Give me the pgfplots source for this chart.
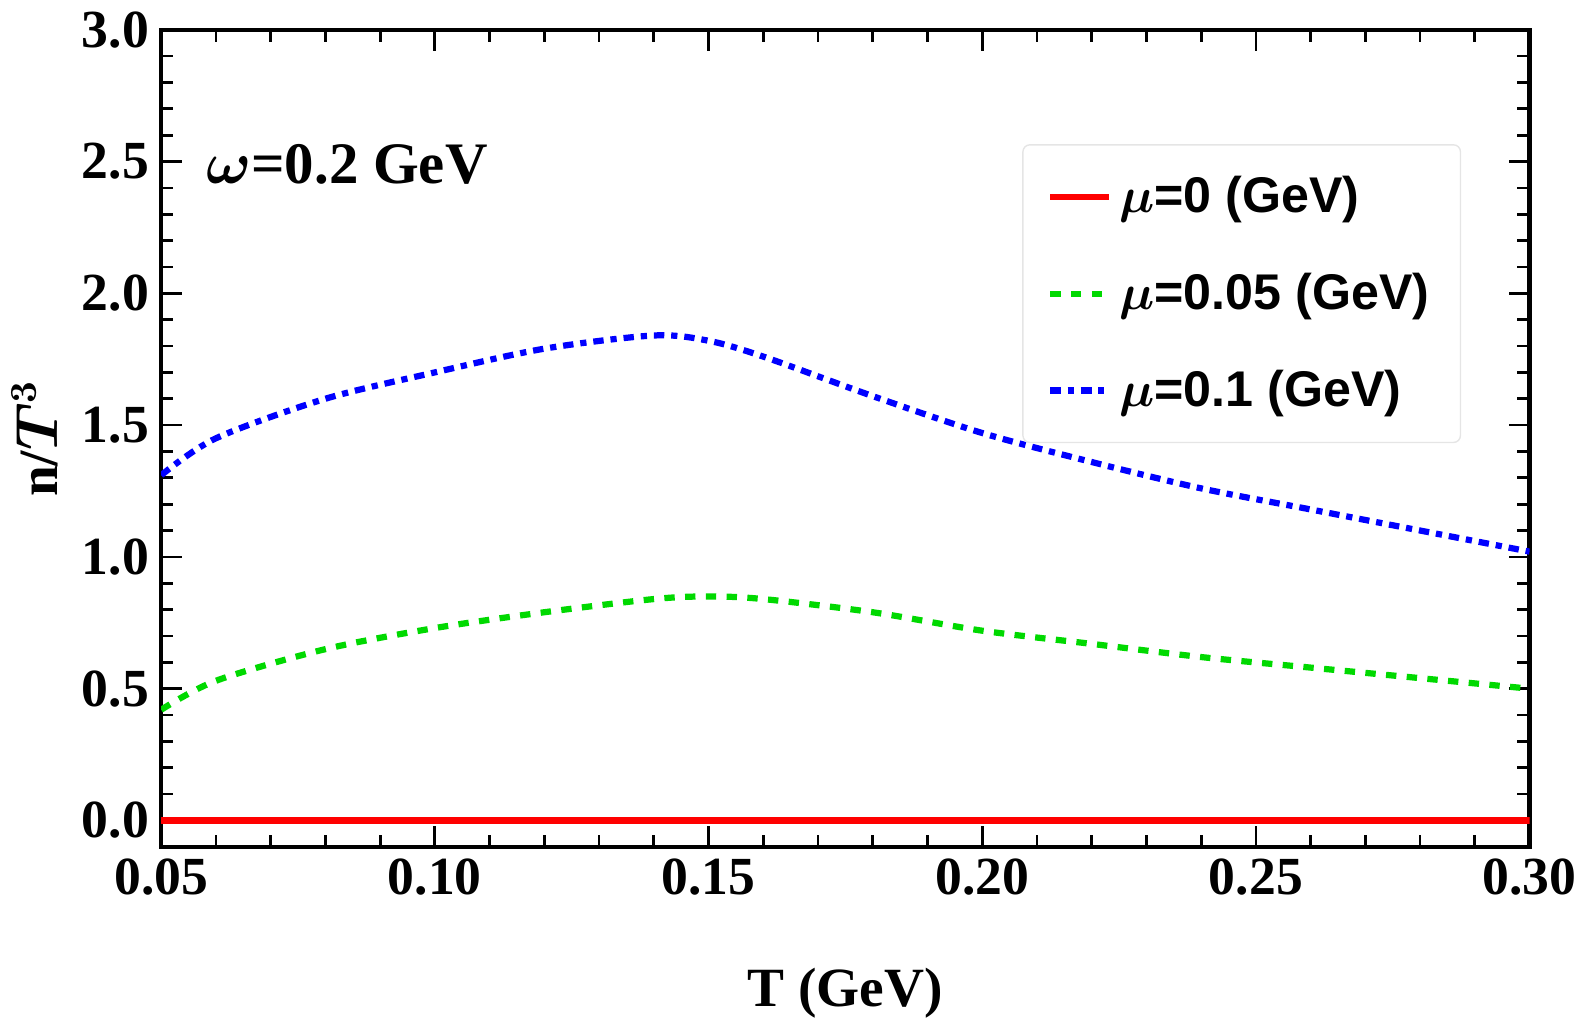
\documentclass[border=0pt]{standalone}
\usepackage{pgfplots}
\pgfplotsset{compat=1.18}
\usepackage{amsmath}
\usepackage{bm}
\usepackage{fontspec}
\setmainfont{Liberation Serif}
\newfontfamily\lsans{Liberation Sans}
\begin{document}
\begin{tikzpicture}
\begin{axis}[
  scale only axis, width=13.9cm, height=8.3cm,
  xmin=0.05, xmax=0.30, ymin=-0.1, ymax=3.0,
  xtick={0.05,0.10,...,0.30}, ytick={0,0.5,...,3.0},
  minor x tick num=4, minor y tick num=4,
  tick align=inside, tick style={black, line width=0.8pt},
  major tick length=6pt, minor tick length=3.5pt,
  axis line style={line width=1.2pt},
  /pgf/number format/assume math mode=true,
  xticklabel style={/pgf/number format/.cd, fixed, fixed zerofill, precision=2},
  yticklabel style={/pgf/number format/.cd, fixed, fixed zerofill, precision=1},
  ticklabel style={font=\bfseries\fontsize{15.5}{15.5}\selectfont},
  xlabel={\bfseries T (GeV)}, ylabel={\bfseries n/$\bm{T^3}$},
  label style={font=\bfseries\fontsize{16}{16}\selectfont},
  xlabel style={yshift=-14pt},
  legend style={at={(0.95,0.86)}, anchor=north east, draw=black!10, rounded corners=2pt,
    font=\lsans\bfseries\fontsize{14.5}{14.5}\selectfont, row sep=12pt, inner sep=7pt},
  legend cell align=left,
]
\addplot[red, line width=1.8pt] coordinates {(0.05,0) (0.30,0)};
\addlegendentry{$\bm{\mu}$=0 (GeV)}
\addplot[green!85!black, line width=1.8pt, dashed, smooth] coordinates {
(0.05,0.42) (0.06,0.53) (0.08,0.65) (0.10,0.73) (0.12,0.79) (0.14,0.84) (0.15,0.85) (0.16,0.84) (0.18,0.79) (0.20,0.72) (0.22,0.67) (0.24,0.62) (0.26,0.58) (0.28,0.54) (0.30,0.50)};
\addlegendentry{$\bm{\mu}$=0.05 (GeV)}
\addplot[blue, line width=1.8pt, dash dot, smooth] coordinates {
(0.05,1.31) (0.06,1.45) (0.08,1.60) (0.10,1.70) (0.12,1.79) (0.14,1.84) (0.15,1.82) (0.16,1.76) (0.18,1.61) (0.20,1.47) (0.22,1.36) (0.24,1.26) (0.26,1.18) (0.28,1.10) (0.30,1.02)};
\addlegendentry{$\bm{\mu}$=0.1 (GeV)}
\node[anchor=west, font=\bfseries\fontsize{17}{17}\selectfont] at (axis cs:0.056,2.49) {$\bm{\omega}$=0.2 GeV};
\end{axis}
\end{tikzpicture}
\end{document}
